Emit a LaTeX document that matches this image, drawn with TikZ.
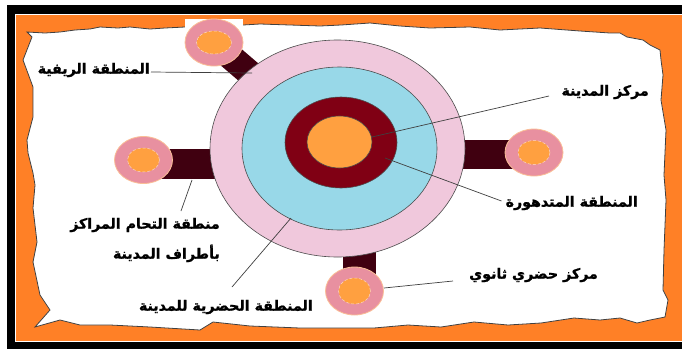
\documentclass[tikz,border=0pt]{standalone}
\usepackage{fontspec}
\usetikzlibrary{shapes.geometric,backgrounds}
\newfontfamily\arabicfont[Script=Arabic, BoldFont={DejaVu Sans Bold}, BoldFeatures={FakeBold=1.2}]{DejaVu Sans}
\TeXXeTstate=1
\newcommand{\artext}[1]{\beginR #1\endR}
\definecolor{framebg}{RGB}{255,128,38}
\definecolor{ringpink}{RGB}{240,200,220}
\definecolor{ringblue}{RGB}{152,216,232}
\definecolor{ringred}{RGB}{128,0,20}
\definecolor{coreorange}{RGB}{255,160,64}
\definecolor{spokebrown}{RGB}{64,0,16}
\definecolor{satpink}{RGB}{232,144,160}
\definecolor{satedge}{RGB}{250,190,150}

\begin{document}
\begin{tikzpicture}[
      x=1pt, y=-1pt,
      ring/.style={ellipse, draw=black!70, line width=0.6pt, inner sep=0pt},
      sat/.style={ellipse, draw=satedge, line width=0.8pt, fill=satpink, inner sep=0pt,
        minimum width=58pt, minimum height=47pt},
      satcore/.style={ellipse, draw=satedge!60!white, densely dashed, line width=0.5pt,
        fill=coreorange, inner sep=0pt, minimum width=32pt, minimum height=24pt},
      spoke/.style={draw=spokebrown, line width=#1},
      lbl/.style={font=\arabicfont\bfseries\fontsize{14.2}{30}\selectfont, inner sep=1pt, anchor=east, align=right},
      leader/.style={draw=black!75, line width=0.7pt},
    ]
    \useasboundingbox (0,0) rectangle (682,349);
    % frame and torn paper
    \begin{scope}[on background layer]
      \fill[white] (0,0) rectangle (682,349);
      \fill[black] (7,5) rectangle (682,349);
      \fill[framebg, draw=white, line width=0.8pt] (15,14) rectangle (682,341);
      \filldraw[fill=white, draw=black!75, line width=0.8pt]
        (27,32) -- (45,33) -- (60,32) -- (75,30) -- (90,29) -- (100,27) -- (118,28) -- (130,27)
        -- (150,29) -- (165,28) -- (185,27) -- (215,26) -- (243,25) -- (260,24) -- (290,25)
        -- (320,26) -- (341,25) -- (370,23) -- (400,26) -- (430,28) -- (470,27) -- (500,30)
        -- (540,28) -- (580,31) -- (610,33) -- (620,33) -- (627,37) -- (643,40) -- (650,45)
        -- (660,50) -- (661,60) -- (663,75) -- (661,100) -- (666,130) -- (664,175) -- (666,200)
        -- (664,250) -- (663,290) -- (668,300) -- (665,317) -- (650,320) -- (637,323) -- (620,318)
        -- (600,320) -- (574,318) -- (541,323) -- (508,325) -- (474,322) -- (441,327) -- (408,325)
        -- (374,328) -- (341,328) -- (300,328) -- (250,326) -- (213,322) -- (200,330) -- (150,327)
        -- (110,325) -- (80,325) -- (60,320) -- (35,327) -- (50,310) -- (40,295) -- (33,262)
        -- (37,242) -- (33,208) -- (35,185) -- (33,173) -- (28,153) -- (27,140) -- (33,117)
        -- (33,87) -- (23,60) -- (32,37) -- cycle;
      \fill[white] (185,19) rectangle (243,30);
    \end{scope}
    % city rings
    \node[ring, fill=ringpink, minimum width=255pt, minimum height=217pt] (urban) at (337.5,148.5) {};
    \node[ring, fill=ringblue, minimum width=195pt, minimum height=163pt] (fringe) at (339.5,148.5) {};
    \node[ring, fill=ringred, minimum width=112pt, minimum height=91pt] (decline) at (341,142.5) {};
    \node[ring, fill=coreorange, minimum width=65pt, minimum height=52pt] (cbd) at (339.5,142) {};
    % satellite centres
    \node[sat] (satnw) at (214,42.5) {};
    \node[satcore, minimum width=35pt, minimum height=23pt] at (satnw) {};
    \node[sat] (satw) at (143.5,160) {};
    \node[satcore] at (satw) {};
    \node[sat] (sate) at (534,152.5) {};
    \node[satcore] at (sate) {};
    \node[sat, minimum height=48pt] (sats) at (354.5,291) {};
    \node[satcore, minimum height=26pt] at (sats) {};
    % spokes to the city
    \begin{scope}[on background layer]
      \draw[spoke=26pt] (satnw.center) -- (urban.center);
      \draw[spoke=30pt] (satw.center) ++(0,4) -- (urban.center |- 0,164);
      \draw[spoke=29pt] (sate.center) ++(0,1.5) -- (urban.center |- 0,154);
      \draw[spoke=33pt] (sats.center) ++(5,0) -- (359.5,148);
    \end{scope}
    % labels
    \node[lbl] (lrural) at (151,70) {\artext{المنطقة الريفية}};
    \node[lbl] (lcbd) at (650,92) {\artext{مركز المدينة}};
    \node[lbl] (ldecl) at (639,203) {\artext{المنطقة المتدهورة}};
    \node[lbl] (lmerge) at (221,240) {\artext{منطقة التحام المراكز}\\\artext{بأطراف المدينة}};
    \node[lbl] (lurban) at (314,307) {\artext{المنطقة الحضرية للمدينة}};
    \node[lbl] (lsub) at (599,275) {\artext{مركز حضري ثانوي}};
    % leaders
    \coordinate (erural) at (252,73);
    \coordinate (ecbd) at (372,137);
    \coordinate (edecl) at (385,158);
    \coordinate (emerge) at (192,180);
    \coordinate (eurban) at (291,218);
    \coordinate (esub) at (384,288);
    \draw[leader] (lrural.east |- 0,72) -- (erural);
    \draw[leader] (549,96) -- (ecbd);
    \draw[leader] (ldecl.west |- 0,201) ++(-3,0) -- (edecl);
    \draw[leader] (181,211) -- (emerge);
    \draw[leader] (232,287) -- (eurban);
    \draw[leader] (453,281) -- (esub);
  \end{tikzpicture}
\end{document}
